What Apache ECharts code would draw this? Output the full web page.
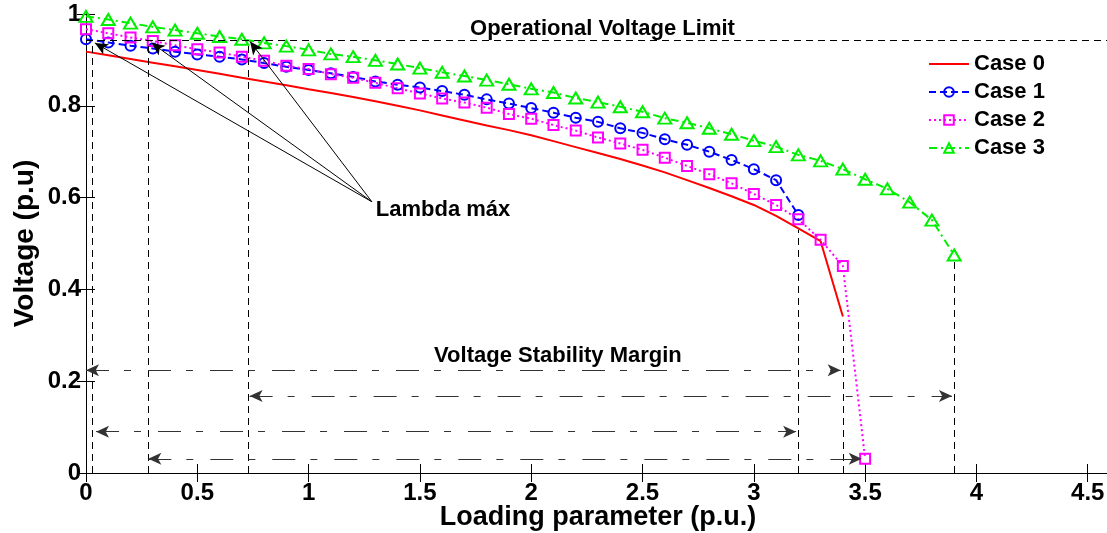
<!DOCTYPE html>
<html>
<head>
<meta charset="utf-8">
<script src="https://cdn.jsdelivr.net/npm/echarts@6/dist/echarts.min.js"></script>
<style>
html, body { margin: 0; padding: 0; background: #fff; }
#main { width: 1107px; height: 533px; }
</style>
</head>
<body>
<div id="main"></div>
<script>
// loading parameter steps (p.u.)
var lambdaSteps = [0, 0.1, 0.2, 0.3, 0.4, 0.5, 0.6, 0.7, 0.8, 0.9,
    1.0, 1.1, 1.2, 1.3, 1.4, 1.5, 1.6, 1.7, 1.8, 1.9,
    2.0, 2.1, 2.2, 2.3, 2.4, 2.5, 2.6, 2.7, 2.8, 2.9,
    3.0, 3.1, 3.2, 3.3, 3.4, 3.5, 3.6, 3.7, 3.8, 3.9];

var case0 = [0.918, 0.910, 0.902, 0.894, 0.886, 0.878, 0.870, 0.861, 0.853, 0.845,
    0.836, 0.828, 0.819, 0.810, 0.800, 0.790, 0.779, 0.768, 0.757, 0.747,
    0.736, 0.723, 0.710, 0.697, 0.684, 0.670, 0.655, 0.638, 0.621, 0.603,
    0.584, 0.560, 0.533, 0.505, 0.341];
var case1 = [0.945, 0.938, 0.931, 0.925, 0.918, 0.912, 0.907, 0.901, 0.893, 0.885,
    0.878, 0.871, 0.863, 0.853, 0.846, 0.840, 0.832, 0.824, 0.814, 0.805,
    0.795, 0.785, 0.774, 0.765, 0.751, 0.741, 0.727, 0.715, 0.700, 0.682,
    0.662, 0.638, 0.562];
var case2 = [0.967, 0.958, 0.949, 0.941, 0.932, 0.923, 0.916, 0.907, 0.898, 0.887,
    0.880, 0.869, 0.861, 0.850, 0.838, 0.827, 0.816, 0.807, 0.796, 0.782,
    0.772, 0.758, 0.746, 0.731, 0.718, 0.704, 0.687, 0.669, 0.651, 0.631,
    0.608, 0.584, 0.553, 0.508, 0.451, 0.031];
var case3 = [0.995, 0.988, 0.980, 0.972, 0.965, 0.958, 0.951, 0.945, 0.937, 0.930,
    0.922, 0.913, 0.907, 0.899, 0.891, 0.882, 0.873, 0.865, 0.856, 0.847,
    0.837, 0.829, 0.817, 0.808, 0.798, 0.787, 0.773, 0.763, 0.751, 0.738,
    0.724, 0.711, 0.693, 0.680, 0.662, 0.640, 0.619, 0.590, 0.551, 0.475];

var caseNames = ['Case 0', 'Case 1', 'Case 2', 'Case 3'];

// annotations
var voltageLimit = 0.943;
var lambdaMaxX = [0.03, 0.28, 0.73];          // dashed verticals up to the limit
var collapsePoints = [[3.2, 0.53], [3.4, 0.34], [3.9, 0.465]];
// [from x, to x, y]
var marginArrows = [[0, 3.39, 0.224], [0.735, 3.89, 0.168], [0.045, 3.19, 0.09], [0.28, 3.485, 0.031]];
var lambdaLabelPoint = [1.284, 0.591];
var lambdaTips = [[0.04, 0.937], [0.295, 0.937], [0.737, 0.94]];
var annotText = ['Operational Voltage Limit', 'Lambda máx', 'Voltage Stability Margin'];
var annotPos = [[2.32, 0.968], [1.604, 0.573], [2.12, 0.255]];

var FONT = 'Liberation Sans, Arial, Helvetica, sans-serif';

function pairs(ys) {
    return ys.map(function (v, i) { return [lambdaSteps[i], v]; });
}

var chart = echarts.init(document.getElementById('main'));

var vLines = lambdaMaxX.map(function (x) {
    return [{ coord: [x, 0] }, { coord: [x, voltageLimit] }];
}).concat(collapsePoints.map(function (p) {
    return [{ coord: [p[0], 0] }, { coord: [p[0], p[1]] }];
}));
vLines.push([{ coord: [0, voltageLimit] }, { coord: [4.6, voltageLimit] }]);

var hArrows = marginArrows.map(function (a) {
    return [{ coord: [a[0], a[2]] }, { coord: [a[1], a[2]] }];
});

var tipLines = lambdaTips.map(function (t) {
    return [{ coord: lambdaLabelPoint }, { coord: t }];
});

var tickStyle = { show: true, inside: true, length: 9, lineStyle: { color: '#000' } };
var lineAxis = { show: true, lineStyle: { color: '#000', width: 1 } };

var option = {
    animation: false,
    backgroundColor: '#fff',
    grid: { left: 86, top: 14, width: 1024, height: 459, outerBoundsMode: 'none', containLabel: false },
    legend: {
        data: caseNames,
        orient: 'vertical',
        left: 923,
        top: 48,
        itemWidth: 40,
        itemHeight: 12,
        itemGap: 6,
        textStyle: { fontFamily: FONT, fontWeight: 'bold', fontSize: 22, color: '#000' }
    },
    xAxis: [{
        type: 'value', min: 0, max: 4.6, interval: 0.5,
        name: 'Loading parameter (p.u.)', nameLocation: 'middle', nameGap: 31, nameMoveOverlap: false,
        nameTextStyle: { fontFamily: FONT, fontWeight: 'bold', fontSize: 27, color: '#000' },
        axisLine: lineAxis, axisTick: tickStyle, splitLine: { show: false },
        axisLabel: { showMaxLabel: false, margin: 8, fontFamily: FONT, fontWeight: 'bold', fontSize: 24, color: '#000' }
    }, {
        type: 'value', min: 0, max: 4.6, interval: 0.5, position: 'top',
        axisLine: lineAxis, axisTick: tickStyle, splitLine: { show: false },
        axisLabel: { show: false }
    }],
    yAxis: [{
        type: 'value', min: 0, max: 1, interval: 0.2,
        name: 'Voltage (p.u)', nameLocation: 'middle', nameGap: 47, nameMoveOverlap: false,
        nameTextStyle: { fontFamily: FONT, fontWeight: 'bold', fontSize: 28, color: '#000' },
        axisLine: lineAxis, axisTick: tickStyle, splitLine: { show: false },
        axisLabel: { margin: 5, fontFamily: FONT, fontWeight: 'bold', fontSize: 24, color: '#000' }
    }, {
        type: 'value', min: 0, max: 1, interval: 0.2, position: 'right',
        axisLine: lineAxis, axisTick: tickStyle, splitLine: { show: false },
        axisLabel: { show: false }
    }],
    series: [{
        name: 'guides', type: 'line', data: [], silent: true,
        markLine: {
            silent: true, symbol: ['none', 'none'], label: { show: false },
            lineStyle: { color: '#000', width: 1, type: [7, 5] },
            data: vLines
        }
    }, {
        name: 'margins', type: 'line', data: [], silent: true,
        markLine: {
            silent: true, symbol: ['arrow', 'arrow'], symbolSize: [9, 13], label: { show: false },
            lineStyle: { color: '#333', width: 1, type: [23, 15, 7, 17] },
            data: hArrows
        }
    }, {
        name: 'tips', type: 'line', data: [], silent: true,
        markLine: {
            silent: true, symbol: ['none', 'arrow'], symbolSize: [9, 13], label: { show: false },
            lineStyle: { color: '#000', width: 1, type: 'solid' },
            data: tipLines
        }
    }, {
        name: caseNames[0], type: 'line', data: pairs(case0),
        showSymbol: false, symbol: 'none',
        lineStyle: { color: '#ff0000', width: 2, type: 'solid' },
        itemStyle: { color: 'rgba(0,0,0,0)', borderWidth: 0 }
    }, {
        name: caseNames[1], type: 'line', data: pairs(case1),
        symbol: 'circle', symbolSize: 10,
        lineStyle: { color: '#0000ff', width: 2, type: [7, 4] },
        itemStyle: { color: 'rgba(0,0,0,0)', borderColor: '#0000ff', borderWidth: 2 }
    }, {
        name: caseNames[2], type: 'line', data: pairs(case2),
        symbol: 'rect', symbolSize: 10,
        lineStyle: { color: '#ff00ff', width: 2, type: [2, 3] },
        itemStyle: { color: 'rgba(0,0,0,0)', borderColor: '#ff00ff', borderWidth: 2 }
    }, {
        name: caseNames[3], type: 'line', data: pairs(case3),
        symbol: 'triangle', symbolSize: [13, 11],
        lineStyle: { color: '#00ee00', width: 2, type: [8, 4, 2, 4] },
        itemStyle: { color: 'rgba(0,0,0,0)', borderColor: '#00ee00', borderWidth: 2 }
    }, {
        name: 'labels', type: 'scatter', symbolSize: 0, silent: true,
        itemStyle: { opacity: 1 },
        data: annotPos.map(function (p, i) { return { value: p, name: annotText[i] }; }),
        label: {
            show: true, position: 'inside', formatter: '{b}',
            fontFamily: FONT, fontWeight: 'bold', fontSize: 22, color: '#000'
        }
    }]
};

chart.setOption(option);
</script>
</body>
</html>
